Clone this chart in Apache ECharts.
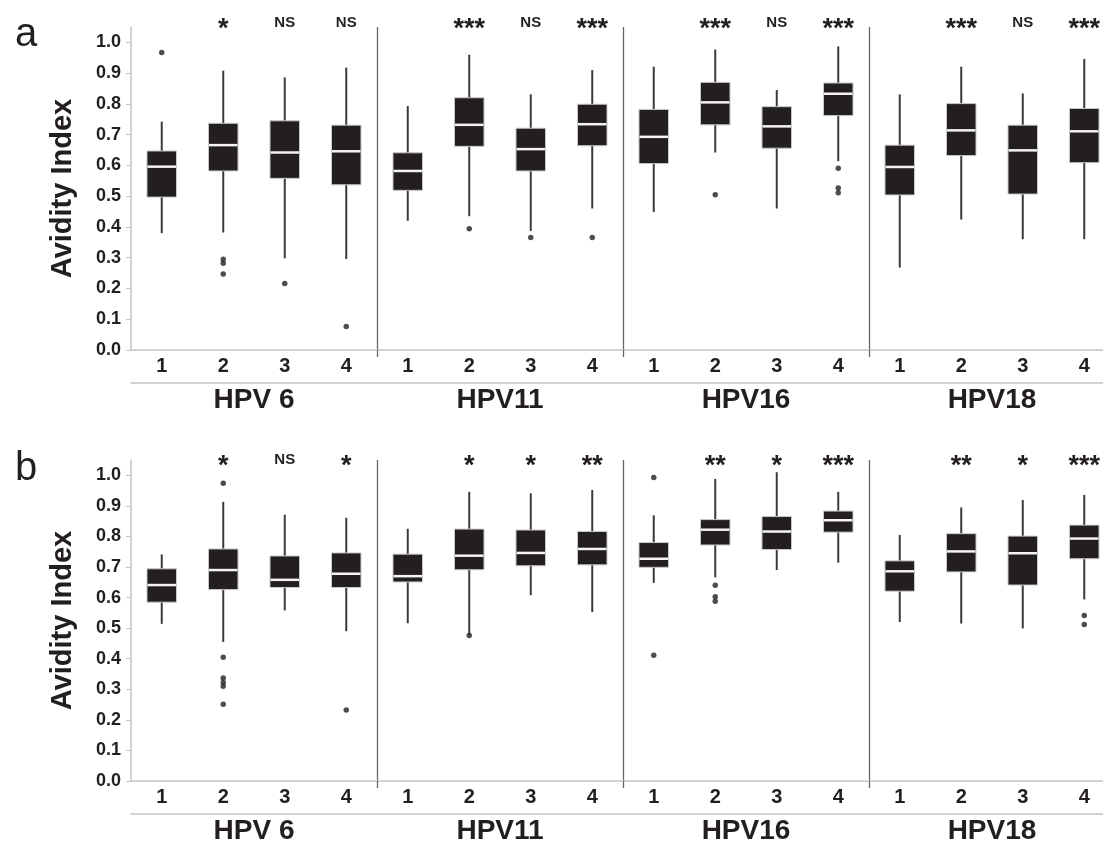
<!DOCTYPE html>
<html>
<head>
<meta charset="utf-8">
<title>Avidity Index</title>
<script src="https://cdn.jsdelivr.net/npm/echarts@6/dist/echarts.min.js"></script>
<style>
  html, body { margin: 0; padding: 0; background: #fff; overflow: hidden; }
  #chart { width: 1103px; height: 844px; }
</style>
</head>
<body>
<div id="chart"></div>
<script>
// categories
const groups = ['HPV 6', 'HPV11', 'HPV16', 'HPV18']
const subLabels = ['1', '2', '3', '4']
const yTicks = [0, 0.1, 0.2, 0.3, 0.4, 0.5, 0.6, 0.7, 0.8, 0.9, 1.0]

// panel a: [low whisker, Q1, median, Q3, high whisker] per box
const boxesA = [
  [0.38, 0.497, 0.596, 0.647, 0.742],
  [0.382, 0.582, 0.666, 0.737, 0.908],
  [0.298, 0.558, 0.642, 0.745, 0.886],
  [0.296, 0.537, 0.646, 0.731, 0.918],
  [0.42, 0.519, 0.582, 0.641, 0.793],
  [0.435, 0.662, 0.732, 0.82, 0.96],
  [0.387, 0.582, 0.653, 0.721, 0.831],
  [0.46, 0.664, 0.734, 0.799, 0.91],
  [0.449, 0.606, 0.693, 0.782, 0.921],
  [0.642, 0.732, 0.805, 0.87, 0.977],
  [0.46, 0.656, 0.727, 0.791, 0.845],
  [0.614, 0.762, 0.833, 0.868, 0.987],
  [0.268, 0.504, 0.595, 0.666, 0.831],
  [0.424, 0.632, 0.714, 0.801, 0.921],
  [0.36, 0.507, 0.649, 0.731, 0.834],
  [0.36, 0.609, 0.711, 0.785, 0.946]
]
// outliers: [box index, value]
const outliersA = [
  [0, 0.967],
  [1, 0.295], [1, 0.282], [1, 0.247],
  [2, 0.216],
  [3, 0.076],
  [5, 0.394],
  [6, 0.366],
  [7, 0.366],
  [9, 0.505],
  [11, 0.591], [11, 0.527], [11, 0.511]
]
const signifA = ['', '*', 'NS', 'NS', '', '***', 'NS', '***', '', '***', 'NS', '***', '', '***', 'NS', '***']

// panel b
const boxesB = [
  [0.514, 0.585, 0.641, 0.694, 0.741],
  [0.455, 0.626, 0.69, 0.759, 0.913],
  [0.558, 0.633, 0.658, 0.736, 0.871],
  [0.49, 0.633, 0.678, 0.746, 0.861],
  [0.516, 0.651, 0.67, 0.742, 0.825],
  [0.479, 0.691, 0.737, 0.824, 0.946],
  [0.608, 0.704, 0.746, 0.821, 0.941],
  [0.553, 0.707, 0.759, 0.816, 0.952],
  [0.648, 0.699, 0.727, 0.78, 0.869],
  [0.666, 0.772, 0.822, 0.855, 0.988],
  [0.69, 0.757, 0.816, 0.865, 1.01],
  [0.714, 0.814, 0.853, 0.883, 0.946],
  [0.52, 0.621, 0.686, 0.72, 0.805],
  [0.515, 0.684, 0.751, 0.809, 0.895],
  [0.499, 0.641, 0.745, 0.801, 0.919],
  [0.594, 0.727, 0.793, 0.837, 0.936]
]
const outliersB = [
  [1, 0.974], [1, 0.405], [1, 0.337], [1, 0.322], [1, 0.31], [1, 0.251],
  [3, 0.232],
  [5, 0.476],
  [8, 0.993], [8, 0.411],
  [9, 0.64], [9, 0.603], [9, 0.588],
  [15, 0.541], [15, 0.512]
]
const signifB = ['', '*', 'NS', '*', '', '*', '*', '**', '', '**', '*', '***', '', '**', '*', '***']

const FONT = '"Liberation Sans", Arial, Helvetica, sans-serif'
const INK = '#231f20'
const categories = groups.flatMap(() => subLabels)

const chart = echarts.init(document.getElementById('chart'), null, { renderer: 'canvas' })

function renderBox(params, api) {
  const x = api.value(0)
  const lo = api.coord([x, api.value(1)])
  const q1 = api.coord([x, api.value(2)])
  const md = api.coord([x, api.value(3)])
  const q3 = api.coord([x, api.value(4)])
  const hi = api.coord([x, api.value(5)])
  const w = api.size([1, 0])[0] * 0.48
  return {
    type: 'group',
    children: [
      { type: 'line', shape: { x1: lo[0], y1: lo[1], x2: hi[0], y2: hi[1] }, style: { stroke: '#3a3a3a', lineWidth: 2 } },
      { type: 'rect', shape: { x: q3[0] - w / 2, y: q3[1], width: w, height: q1[1] - q3[1] }, style: { fill: INK, stroke: '#c8c8c8', lineWidth: 1 } },
      { type: 'line', shape: { x1: md[0] - w / 2 + 0.5, y1: md[1], x2: md[0] + w / 2 - 0.5, y2: md[1] }, style: { stroke: '#f4f4f4', lineWidth: 2.5 } }
    ]
  }
}

function signifRenderer(labels, shift) {
  return function (params, api) {
    const txt = labels[params.dataIndex]
    if (!txt) return null
    const p = api.coord([api.value(0), api.value(1)])
    const stars = txt !== 'NS'
    return {
      type: 'text',
      x: p[0],
      y: p[1] + shift + (stars ? 7 : 0),
      style: {
        text: txt,
        fill: INK,
        font: 'bold ' + (stars ? 27 : 15) + 'px ' + FONT,
        align: 'center',
        verticalAlign: 'middle'
      }
    }
  }
}

function panelAxes(gi) {
  const x = [
    {
      gridIndex: gi,
      type: 'category',
      data: categories,
      boundaryGap: true,
      axisLine: { lineStyle: { color: '#c4c4c4', width: 1.5 } },
      axisTick: { show: true, length: 7, interval: (i) => i > 0 && i % 4 === 0, lineStyle: { color: '#666', width: 1.3 } },
      axisLabel: { interval: 0, margin: 6, color: INK, fontWeight: 'bold', fontSize: 20, fontFamily: FONT }
    },
    {
      gridIndex: gi,
      type: 'category',
      data: groups,
      boundaryGap: true,
      position: 'bottom',
      offset: 33,
      axisLine: { lineStyle: { color: '#c4c4c4', width: 1.5 } },
      axisTick: { show: false },
      axisLabel: { interval: 0, margin: 3, color: INK, fontWeight: 'bold', fontSize: 28, fontFamily: FONT },
      splitLine: { show: true, interval: (i) => i > 0, lineStyle: { color: '#666', width: 1.3 } }
    }
  ]
  const y = {
    gridIndex: gi,
    type: 'value',
    min: 0,
    max: 1.05,
    name: 'Avidity Index',
    nameLocation: 'middle',
    nameGap: 54,
    nameTextStyle: { color: INK, fontWeight: 'bold', fontSize: 29, fontFamily: FONT },
    axisLine: { show: true, lineStyle: { color: '#c4c4c4', width: 1.5 } },
    axisTick: { show: true, length: 5, customValues: yTicks, lineStyle: { color: '#c4c4c4' } },
    axisLabel: { customValues: yTicks, formatter: (v) => v.toFixed(1), margin: 10, color: INK, fontWeight: 'bold', fontSize: 18, fontFamily: FONT },
    splitLine: { show: false }
  }
  return { x, y }
}

const axA = panelAxes(0)
const axB = panelAxes(1)

function boxData(boxes) {
  return boxes.map((b, i) => [i].concat(b))
}

chart.setOption({
  animation: false,
  backgroundColor: '#fff',
  title: [
    { text: 'a', left: 10, top: 10, textStyle: { fontSize: 40, fontWeight: 'normal', color: INK, fontFamily: FONT } },
    { text: 'b', left: 10, top: 444, textStyle: { fontSize: 40, fontWeight: 'normal', color: INK, fontFamily: FONT } }
  ],
  grid: [
    { left: 131, width: 984, top: 27, height: 323, containLabel: false, outerBoundsMode: 'none' },
    { left: 131, width: 984, top: 460, height: 321, containLabel: false, outerBoundsMode: 'none' }
  ],
  xAxis: axA.x.concat(axB.x),
  yAxis: [axA.y, axB.y],
  series: [
    { type: 'custom', xAxisIndex: 0, yAxisIndex: 0, renderItem: renderBox, encode: { x: 0, y: [1, 2, 3, 4, 5] }, data: boxData(boxesA), z: 3 },
    { type: 'scatter', xAxisIndex: 0, yAxisIndex: 0, symbolSize: 5.5, itemStyle: { color: INK }, data: outliersA, z: 4 },
    { type: 'custom', xAxisIndex: 0, yAxisIndex: 0, renderItem: signifRenderer(signifA, -4), data: signifA.map((s, i) => [i, 1.05]), clip: false, z: 5 },
    { type: 'custom', xAxisIndex: 2, yAxisIndex: 1, renderItem: renderBox, encode: { x: 0, y: [1, 2, 3, 4, 5] }, data: boxData(boxesB), z: 3 },
    { type: 'scatter', xAxisIndex: 2, yAxisIndex: 1, symbolSize: 5.5, itemStyle: { color: INK }, data: outliersB, z: 4 },
    { type: 'custom', xAxisIndex: 2, yAxisIndex: 1, renderItem: signifRenderer(signifB, 0), data: signifB.map((s, i) => [i, 1.05]), clip: false, z: 5 }
  ]
})

window.addEventListener('resize', () => {
  chart.resize()
})
</script>
</body>
</html>
